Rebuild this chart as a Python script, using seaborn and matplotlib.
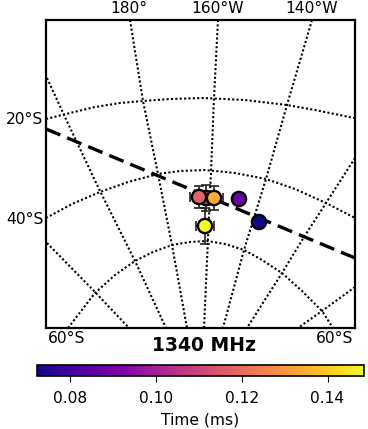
import matplotlib
matplotlib.use("Agg")
import matplotlib.pyplot as plt
import pandas as pd
import seaborn as sns
from matplotlib.cm import ScalarMappable
from matplotlib.colors import Normalize

# Burst positions, in plot units (y grows downward)
burst_x = [259, 239, 206, 199, 214, 205]
burst_y = [222, 199, 198, 197, 198, 226]
burst_xerr = [0, 0, 9, 9, 9, 9]
burst_yerr = [0, 0, 13, 11, 12, 18]
burst_time = [0.0725, 0.0875, 0.1065, 0.118, 0.134, 0.1485]

# Graticule lines
par20_x = [46, 70, 95, 120, 143, 170, 203, 245, 287, 315, 354]
par20_y = [119, 113, 107, 103, 101, 99, 98, 100, 105, 110, 118]
par40_x = [46, 72, 100, 128, 158, 180, 205, 235, 266, 295, 326, 355]
par40_y = [218, 204, 192, 182, 174, 171, 170, 173, 179, 189, 203, 218]
par60_x = [68, 95, 115, 135, 153, 172, 190, 207, 225, 244, 262, 282, 302, 322, 333]
par60_y = [328, 293, 275, 261, 252, 245, 242, 241, 244, 250, 260, 273, 291, 311, 328]

mer_120w_x = [355, 326, 304, 282, 247]
mer_120w_y = [158, 203, 237, 273, 328]
mer_100w_x = [355, 322, 298]
mer_100w_y = [287, 311, 328]
mer_140w_x = [312, 287, 266, 244, 223]
mer_140w_y = [20, 105, 179, 250, 328]
mer_160w_x = [218, 214, 211, 204]
mer_160w_y = [20, 98, 172, 328]
mer_180_x = [130, 143, 158, 172, 187]
mer_180_y = [20, 101, 174, 245, 328]
mer_160e_x = [47, 64, 90, 100, 135, 166]
mer_160e_y = [78, 115, 170, 191, 261, 328]
mer_140e_x = [47, 95, 129]
mer_140e_y = [243, 292, 328]

# Dashed track
track_x = [46, 355]
track_y = [129, 258]

top_labels = ["180°", "160°W", "140°W"]
top_ticks = [129, 218, 312]
left_labels = ["20°S", "40°S"]
left_ticks = [118, 218]
cbar_ticks = [0.08, 0.10, 0.12, 0.14]
time_min, time_max = 0.0722, 0.1485

fig = plt.figure(figsize=(3.68, 4.29), dpi=100)
ax = fig.add_axes([46 / 368, 1 - 328 / 429, 309 / 368, 308 / 429])

# 1. Graticule
grid_lines = [(par20_x, par20_y), (par40_x, par40_y), (par60_x, par60_y),
              (mer_100w_x, mer_100w_y), (mer_120w_x, mer_120w_y),
              (mer_140w_x, mer_140w_y), (mer_160w_x, mer_160w_y),
              (mer_180_x, mer_180_y), (mer_160e_x, mer_160e_y),
              (mer_140e_x, mer_140e_y)]
for xs, ys in grid_lines:
    sns.lineplot(x=xs, y=ys, ax=ax, color="black", linestyle=(0, (1, 1.1)),
                 linewidth=1.5, sort=False, estimator=None, errorbar=None)

# 2. Track
sns.lineplot(x=track_x, y=track_y, ax=ax, color="black", linestyle=(0, (4.65, 2.2)),
             linewidth=2.4, sort=False, estimator=None, errorbar=None)

# 3. Bursts
bursts = pd.DataFrame({"x": burst_x, "y": burst_y, "time": burst_time})
ax.errorbar(burst_x, burst_y, xerr=burst_xerr, yerr=burst_yerr, fmt="none",
            ecolor="#222222", elinewidth=1.2, capsize=3.8, capthick=1.2, zorder=3)
sns.scatterplot(data=bursts, x="x", y="y", hue="time", palette="plasma",
                hue_norm=(time_min, time_max), s=105, edgecolor="black",
                linewidth=1.7, legend=False, ax=ax, zorder=4)

ax.set_xlim(46, 355)
ax.set_ylim(328, 20)
ax.set_xlabel("")
ax.set_ylabel("")
ax.xaxis.tick_top()
ax.set_xticks(top_ticks, top_labels)
ax.set_yticks(left_ticks, left_labels)
ax.tick_params(axis="x", length=0, labelsize=11.2, pad=3)
ax.tick_params(axis="y", length=0, labelsize=11.2, pad=2)
for spine in ax.spines.values():
    spine.set_linewidth(1.6)

ax.text(67, 339, "60°S", fontsize=11.2, ha="center", va="center", clip_on=False)
ax.text(335, 339, "60°S", fontsize=11.2, ha="center", va="center", clip_on=False)
ax.text(204, 346, "1340 MHz", fontsize=13.5, fontweight="bold",
        ha="center", va="center", clip_on=False)

# 4. Colorbar
cax = fig.add_axes([37 / 368, 1 - 376 / 429, 327 / 368, 11 / 429])
mappable = ScalarMappable(norm=Normalize(time_min, time_max), cmap="plasma")
cbar = fig.colorbar(mappable, cax=cax, orientation="horizontal")
cbar.set_ticks(cbar_ticks, labels=[f"{t:.2f}" for t in cbar_ticks])
cbar.ax.tick_params(labelsize=11.2, length=4.5, width=0.8, pad=6)
cbar.set_label("Time (ms)", fontsize=11.2, labelpad=5)
cbar.outline.set_linewidth(1.2)

fig.savefig("out.png", dpi=100)
